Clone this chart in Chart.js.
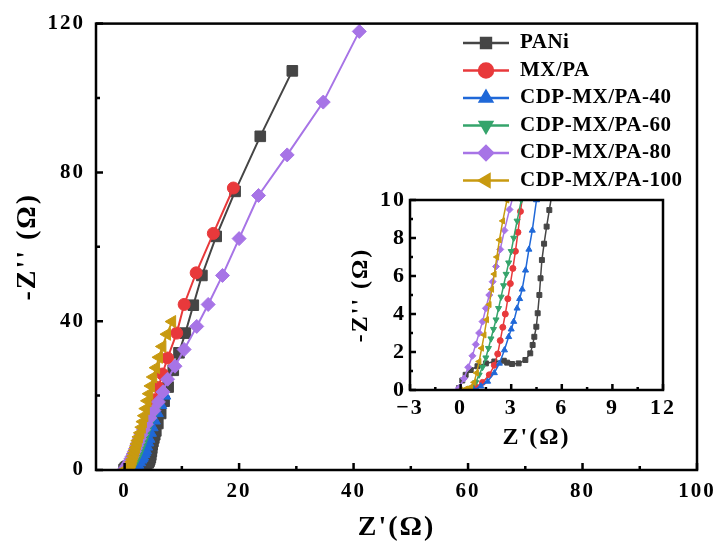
<!DOCTYPE html>
<html>
<head>
<meta charset="utf-8">
<script src="https://cdn.jsdelivr.net/npm/chart.js@4.4.0/dist/chart.umd.min.js"></script>
<style>
  html, body { margin: 0; padding: 0; background: #fff; }
  #wrap { position: relative; width: 724px; height: 549px; }
  #main { position: absolute; left: 0; top: 0; }
  #inset { position: absolute; left: 330px; top: 180px; }
</style>
</head>
<body>
<div id="wrap">
  <canvas id="main" width="724" height="549"></canvas>
  <canvas id="inset" width="360" height="280"></canvas>
</div>
<script>
// Nyquist data, Z' (x) and -Z'' (y) in ohm
const paniX = [-0.1, 0.1, 0.3, 0.6, 1.0, 1.5, 2.0, 2.56, 2.76, 3.05, 3.44, 3.84, 4.13, 4.27, 4.37, 4.49, 4.57, 4.67, 4.74, 4.82, 4.95, 5.1, 5.26, 5.45, 5.8, 6.3, 6.9, 7.6, 8.5, 9.5, 10.6, 12.0, 13.5, 16.0, 19.3, 23.7, 29.3];
const paniY = [0.1, 0.5, 0.8, 1.05, 1.25, 1.4, 1.5, 1.54, 1.44, 1.37, 1.4, 1.58, 1.93, 2.37, 2.8, 3.33, 4.04, 5.0, 5.88, 6.84, 7.7, 8.6, 9.47, 10.5, 12.5, 15.2, 18.5, 22.3, 26.8, 31.5, 36.8, 44.3, 52.3, 62.8, 74.9, 89.7, 107.3];

const mxpaX = [0.5, 0.9, 1.3, 1.7, 2.0, 2.2, 2.35, 2.5, 2.65, 2.8, 2.95, 3.1, 3.25, 3.4, 3.55, 3.8, 4.2, 4.7, 5.3, 5.9, 6.6, 7.5, 9.1, 10.4, 12.5, 15.5, 19.0];
const mxpaY = [0.0, 0.15, 0.4, 0.8, 1.3, 1.9, 2.6, 3.3, 4.0, 4.8, 5.6, 6.4, 7.3, 8.3, 9.4, 11.0, 13.2, 15.8, 18.9, 22.2, 25.8, 30.1, 36.8, 44.5, 53.0, 63.6, 75.8];

const cdp40X = [0.8, 1.2, 1.6, 2.0, 2.3, 2.6, 2.85, 3.0, 3.15, 3.35, 3.5, 3.65, 3.85, 4.05, 4.25, 4.5, 4.8, 5.2, 5.7, 6.3, 7.0];
const cdp40Y = [0.0, 0.2, 0.45, 0.9, 1.4, 2.1, 2.8, 3.2, 3.6, 4.3, 4.8, 5.3, 6.3, 7.4, 8.4, 10.0, 11.5, 13.3, 15.3, 17.5, 20.0];

const cdp60X = [0.3, 0.6, 0.9, 1.1, 1.3, 1.5, 1.65, 1.8, 1.95, 2.1, 2.25, 2.4, 2.55, 2.7, 2.85, 3.0, 3.15, 3.35, 3.6, 3.9, 4.3, 4.8, 5.3];
const cdp60Y = [0.0, 0.1, 0.4, 0.8, 1.2, 1.7, 2.2, 2.7, 3.2, 3.7, 4.3, 4.9, 5.5, 6.1, 6.7, 7.3, 8.0, 8.9, 10.0, 11.3, 12.8, 14.5, 16.0];

const cdp80X = [-0.1, 0.2, 0.45, 0.7, 0.9, 1.1, 1.3, 1.5, 1.7, 1.9, 2.1, 2.35, 2.6, 2.9, 3.3, 3.8, 4.4, 5.1, 5.9, 6.7, 7.5, 8.8, 10.4, 12.6, 14.6, 17.1, 20.0, 23.4, 28.4, 34.7, 41.0];
const cdp80Y = [0.1, 0.6, 1.2, 1.8, 2.4, 3.0, 3.6, 4.3, 5.0, 5.7, 6.5, 7.4, 8.4, 9.5, 10.8, 12.3, 14.0, 16.0, 18.3, 21.0, 24.4, 27.9, 32.4, 38.6, 44.5, 52.3, 62.2, 73.8, 84.7, 98.9, 117.9];

const cdp100X = [0.0, 0.3, 0.6, 0.8, 0.95, 1.1, 1.25, 1.4, 1.55, 1.7, 1.85, 2.0, 2.15, 2.3, 2.5, 2.75, 3.0, 3.2, 3.45, 3.7, 4.0, 4.3, 4.6, 5.0, 5.5, 6.0, 6.6, 7.4, 8.3];
const cdp100Y = [0.0, 0.05, 0.15, 0.4, 0.9, 1.5, 2.2, 2.9, 3.7, 4.5, 5.3, 6.1, 7.0, 7.9, 8.9, 10.0, 11.5, 13.0, 14.6, 16.5, 18.6, 20.5, 22.6, 25.0, 27.5, 30.3, 33.2, 36.5, 39.9];

const seriesNames = ["PANi", "MX/PA", "CDP-MX/PA-40", "CDP-MX/PA-60", "CDP-MX/PA-80", "CDP-MX/PA-100"];
const seriesX = [paniX, mxpaX, cdp40X, cdp60X, cdp80X, cdp100X];
const seriesY = [paniY, mxpaY, cdp40Y, cdp60Y, cdp80Y, cdp100Y];

// tick labels
const mainXTicks = [0, 20, 40, 60, 80, 100];
const mainXMinor = [10, 30, 50, 70, 90];
const mainYTicks = [0, 40, 80, 120];
const mainYMinor = [20, 60, 100];
const insetXTicks = [-3, 0, 3, 6, 9, 12];
const insetXMinor = [-1.5, 1.5, 4.5, 7.5, 10.5];
const insetYTicks = [0, 2, 4, 6, 8, 10];
const insetYMinor = [1, 3, 5, 7, 9];

const colors = ["#454545", "#e8393b", "#1f68d8", "#35a46b", "#a774e6", "#c89a10"];
const markers = ["rect", "circle", "triangle", "triangle", "rectRot", "triangle"];
const markerTurn = [0, 0, 0, 180, 0, 270];

const SERIF = "'Liberation Serif', 'Times New Roman', serif";

function makeDatasets(radii, lineW) {
  return seriesNames.map((name, i) => ({
    label: name,
    data: seriesX[i].map((v, k) => ({ x: v, y: seriesY[i][k] })),
    showLine: true,
    borderColor: colors[i],
    backgroundColor: colors[i],
    pointBackgroundColor: colors[i],
    pointBorderColor: colors[i],
    pointStyle: markers[i],
    pointRotation: markerTurn[i],
    pointRadius: radii[i],
    pointBorderWidth: 1,
    borderWidth: lineW,
    order: seriesNames.length - i
  }));
}

// box frame + inward ticks (Origin style)
const framePlugin = {
  id: "frame",
  beforeDraw(chart, args, o) {
    chart.ctx.letterSpacing = o.spacing + "px";
  },
  afterDraw(chart, args, o) {
    const { ctx, chartArea: a, scales: { x, y } } = chart;
    ctx.save();
    ctx.strokeStyle = "#000";
    ctx.lineWidth = o.width;
    ctx.strokeRect(a.left, a.top, a.right - a.left, a.bottom - a.top);
    ctx.beginPath();
    const tick = (vals, len, horiz) => vals.forEach(v => {
      if (horiz) {
        const px = x.getPixelForValue(v);
        ctx.moveTo(px, a.bottom); ctx.lineTo(px, a.bottom - len);
      } else {
        const py = y.getPixelForValue(v);
        ctx.moveTo(a.left, py); ctx.lineTo(a.left + len, py);
      }
    });
    tick(o.xMajor, o.major, true);
    tick(o.xMinor, o.minor, true);
    tick(o.yMajor, o.major, false);
    tick(o.yMinor, o.minor, false);
    ctx.stroke();
    ctx.restore();
  }
};

// legend with line + marker samples
const legendPlugin = {
  id: "sampleLegend",
  afterDraw(chart, args, o) {
    if (!o.show) return;
    const ctx = chart.ctx;
    ctx.save();
    ctx.letterSpacing = o.spacing + "px";
    chart.data.datasets.forEach((ds, i) => {
      const yy = o.top + i * o.gap;
      ctx.strokeStyle = ds.borderColor;
      ctx.lineWidth = 2.5;
      ctx.beginPath();
      ctx.moveTo(o.lineStart, yy);
      ctx.lineTo(o.lineEnd, yy);
      ctx.stroke();
      ctx.fillStyle = ds.pointBackgroundColor;
      Chart.helpers.drawPoint(ctx, {
        pointStyle: ds.pointStyle, rotation: ds.pointRotation,
        radius: o.radius, borderWidth: 1
      }, (o.lineStart + o.lineEnd) / 2, yy);
      ctx.fillStyle = "#000";
      ctx.font = "bold " + o.fontSize + "px " + SERIF;
      ctx.textAlign = "left";
      ctx.textBaseline = "middle";
      ctx.fillText(ds.label, o.textX, yy);
    });
    ctx.restore();
  }
};

function axis(cfg) {
  return {
    type: "linear",
    min: cfg.min,
    max: cfg.max,
    afterBuildTicks: s => { s.ticks = cfg.ticks.map(v => ({ value: v })); },
    afterFit: s => { if (cfg.width) s.width = cfg.width; if (cfg.height) s.height = cfg.height; },
    grid: { display: false, drawTicks: false },
    border: { display: false },
    ticks: {
      color: "#000",
      font: { family: SERIF, size: cfg.tickSize, weight: "bold" },
      padding: cfg.tickPad,
      maxRotation: 0,
      callback: v => String(v).replace("-", "\u2212")
    },
    title: {
      display: true,
      text: cfg.title,
      color: "#000",
      font: { family: SERIF, size: cfg.titleSize, weight: "bold" },
      padding: cfg.titlePad
    }
  };
}

new Chart(document.getElementById("main"), {
  type: "scatter",
  data: { datasets: makeDatasets([7.5, 6, 7, 7, 7, 7], 2) },
  plugins: [framePlugin, legendPlugin],
  options: {
    responsive: false,
    animation: false,
    events: [],
    layout: { padding: { top: 19, right: 27, left: 0, bottom: 0 } },
    plugins: {
      legend: { display: false },
      tooltip: { enabled: false },
      frame: { width: 2.5, major: 7, minor: 4, spacing: 2,
        xMajor: mainXTicks, xMinor: mainXMinor, yMajor: mainYTicks, yMinor: mainYMinor },
      sampleLegend: { show: true, top: 43, gap: 27.5, lineStart: 463, lineEnd: 509,
        textX: 520, radius: 7, fontSize: 21, spacing: 0.5 }
    },
    scales: {
      x: axis({ min: -5, max: 100, ticks: mainXTicks, height: 79, tickSize: 21, tickPad: 9,
        title: "Z'(\u03A9)", titleSize: 28, titlePad: { top: 0, bottom: 4 } }),
      y: axis({ min: 0, max: 120, ticks: mainYTicks, width: 96, tickSize: 21, tickPad: 11,
        title: "-Z'' (\u03A9)", titleSize: 28, titlePad: { top: 11, bottom: 0 } })
    }
  }
});

new Chart(document.getElementById("inset"), {
  type: "scatter",
  data: { datasets: makeDatasets([3.5, 3, 3.5, 3.5, 3.5, 3.5], 1.5) },
  plugins: [framePlugin],
  options: {
    responsive: false,
    animation: false,
    events: [],
    layout: { padding: { top: 20, right: 27, left: 0, bottom: 0 } },
    plugins: {
      legend: { display: false },
      tooltip: { enabled: false },
      frame: { width: 2.5, major: 6, minor: 3, spacing: 2,
        xMajor: insetXTicks, xMinor: insetXMinor, yMajor: insetYTicks, yMinor: insetYMinor }
    },
    scales: {
      x: axis({ min: -3, max: 12, ticks: insetXTicks, height: 70, tickSize: 22, tickPad: 5,
        title: "Z'(\u03A9)", titleSize: 24, titlePad: { top: 0, bottom: 8 } }),
      y: axis({ min: 0, max: 10, ticks: insetYTicks, width: 80, tickSize: 22, tickPad: 4,
        title: "-Z'' (\u03A9)", titleSize: 24, titlePad: { top: 16, bottom: 0 } })
    }
  }
});
</script>
</body>
</html>
